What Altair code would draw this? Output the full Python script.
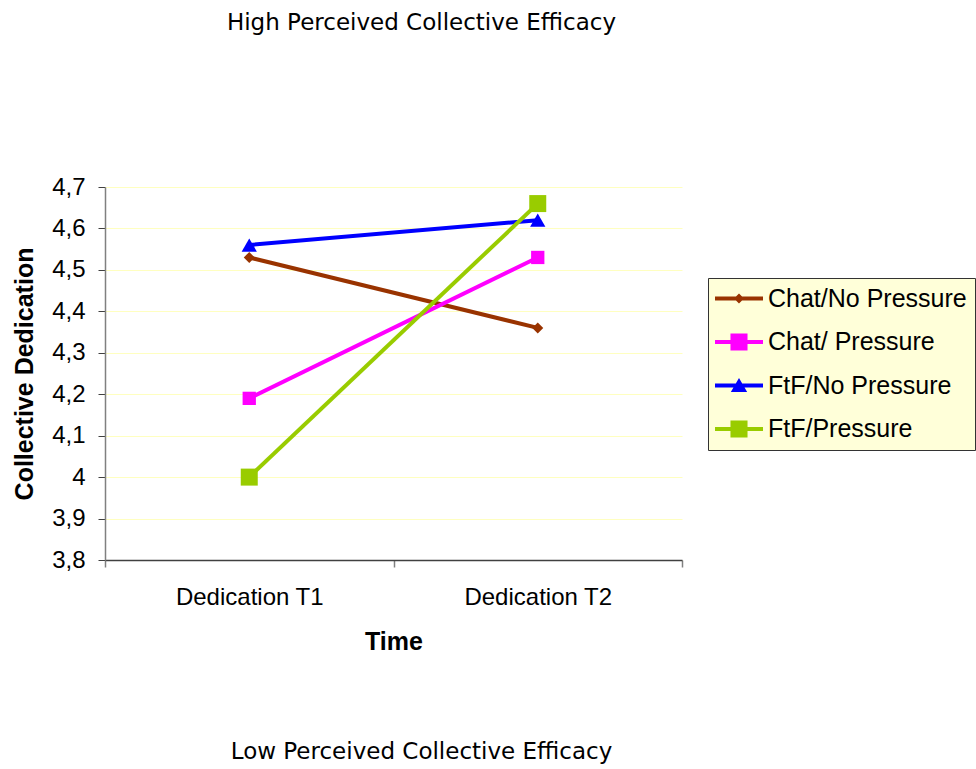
import altair as alt
import pandas as pd

# ---- data ----
series = ["Chat/No Pressure", "Chat/ Pressure", "FtF/No Pressure", "FtF/Pressure"]
times = ["Dedication T1", "Dedication T2"]
chat_no_pressure = [4.53, 4.36]
chat_pressure = [4.19, 4.53]
ftf_no_pressure = [4.56, 4.62]
ftf_pressure = [4.00, 4.66]
y_ticks = [3.8, 3.9, 4.0, 4.1, 4.2, 4.3, 4.4, 4.5, 4.6, 4.7]
title_top = "High Perceived Collective Efficacy"
title_bottom = "Low Perceived Collective Efficacy"

colors = ["#993300", "#FF00FF", "#0000FF", "#99CC00"]
shapes = ["diamond", "square", "triangle-up", "square"]
sizes = [121, 289, 289, 289]
# legend symbols: line segment + marker (unit box: +-1 = 12px)
legend_shapes = [
    "M-2,-0.17H2V0.17H-2Z M0,-0.42L0.42,0L0,0.42L-0.42,0Z",
    "M-2,-0.17H2V0.17H-2Z M-0.71,-0.71H0.71V0.71H-0.71Z",
    "M-2,-0.17H2V0.17H-2Z M0,-0.62L0.68,0.55H-0.68Z",
    "M-2,-0.17H2V0.17H-2Z M-0.71,-0.71H0.71V0.71H-0.71Z",
]

rows = []
for name, vals in zip(series, [chat_no_pressure, chat_pressure, ftf_no_pressure, ftf_pressure]):
    for t, v in zip(times, vals):
        rows.append({"series": name, "time": t, "value": v})
df = pd.DataFrame(rows)

W, H = 577, 373
PAD_L, PAD_T = 105, 187

x_enc = alt.X(
    "time:N",
    bandPosition=0.5,
    scale=alt.Scale(type="band", domain=times, paddingInner=0, paddingOuter=0),
    axis=alt.Axis(
        title="Time",
        labelAngle=0,
        tickBand="extent",
        tickSize=7,
        tickColor="#808080",
        tickWidth=1.5,
        domainColor="#404040",
        domainWidth=1.5,
        labelFont="Liberation Sans",
        labelFontSize=24,
        labelColor="black",
        labelPadding=18,
        titleFont="Liberation Sans",
        titleFontSize=25,
        titleFontWeight="bold",
        titleColor="black",
        titlePadding=20,
        grid=False,
    ),
)
y_enc = alt.Y(
    "value:Q",
    scale=alt.Scale(domain=[3.8, 4.7], nice=False, zero=False),
    axis=alt.Axis(
        title="Collective Dedication",
        values=y_ticks,
        labelExpr="replace(format(datum.value, '.1~f'), '.', ',')",
        tickSize=7,
        tickColor="#404040",
        domainColor="#808080",
        domainWidth=1.5,
        labelFont="Liberation Sans",
        labelFontSize=24,
        labelColor="black",
        labelPadding=13,
        titleFont="Liberation Sans",
        titleFontSize=25,
        titleFontWeight="bold",
        titleColor="black",
        titlePadding=14,
        grid=True,
        gridColor="#FFFFC0",
        gridWidth=1,
    ),
)

base = alt.Chart(df)

lines = base.mark_line(strokeWidth=4).encode(
    x=x_enc,
    y=y_enc,
    color=alt.Color("series:N", scale=alt.Scale(domain=series, range=colors), legend=None),
)

points = base.mark_point(filled=True, opacity=1, strokeWidth=0).encode(
    x=x_enc,
    y=y_enc,
    color=alt.Color("series:N", scale=alt.Scale(domain=series, range=colors), legend=None),
    shape=alt.Shape("series:N", scale=alt.Scale(domain=series, range=shapes), legend=None),
    size=alt.Size("series:O", scale=alt.Scale(domain=series, range=sizes), legend=None),
)

leg = alt.Legend(
    orient="none",
    legendX=708 - PAD_L,
    legendY=278 - PAD_T,
    title=None,
    fillColor="#FFFFD9",
    strokeColor="#333333",
    padding=8,
    symbolSize=576,
    symbolStrokeWidth=0,
    symbolOpacity=1,
    symbolOffset=10.5,
    labelOffset=16.5,
    labelFont="Liberation Sans",
    labelFontSize=25,
    labelColor="black",
    labelLimit=400,
    rowPadding=17.5,
)

legend_layer = base.transform_filter("false").mark_point(filled=True, opacity=1, strokeWidth=0).encode(
    color=alt.Color("series:N", scale=alt.Scale(domain=series, range=colors), legend=leg),
    shape=alt.Shape("series:N", scale=alt.Scale(domain=series, range=legend_shapes), legend=leg),
)

ttl_df = pd.DataFrame({"t": [title_top]})
btm_df = pd.DataFrame({"t": [title_bottom]})
title_layer = alt.Chart(ttl_df).mark_text(
    font="DejaVu Sans", fontSize=23, color="black", align="center", baseline="alphabetic"
).encode(text="t:N", x=alt.value(421.5 - PAD_L), y=alt.value(30 - PAD_T))
bottom_layer = alt.Chart(btm_df).mark_text(
    font="DejaVu Sans", fontSize=23, color="black", align="center", baseline="alphabetic"
).encode(text="t:N", x=alt.value(421.5 - PAD_L), y=alt.value(759 - PAD_T))

chart = (
    alt.layer(lines, points, legend_layer, title_layer, bottom_layer)
    .resolve_scale(color="independent", shape="independent")
    .properties(
        width=W,
        height=H,
        autosize=alt.AutoSizeParams(type="none"),
        padding={"left": PAD_L, "top": PAD_T, "right": 976 - PAD_L - W, "bottom": 769 - PAD_T - H},
        background="white",
    )
    .configure_view(stroke=None)
)

chart.save("out.html", embed_options={"renderer": "svg", "actions": False})
